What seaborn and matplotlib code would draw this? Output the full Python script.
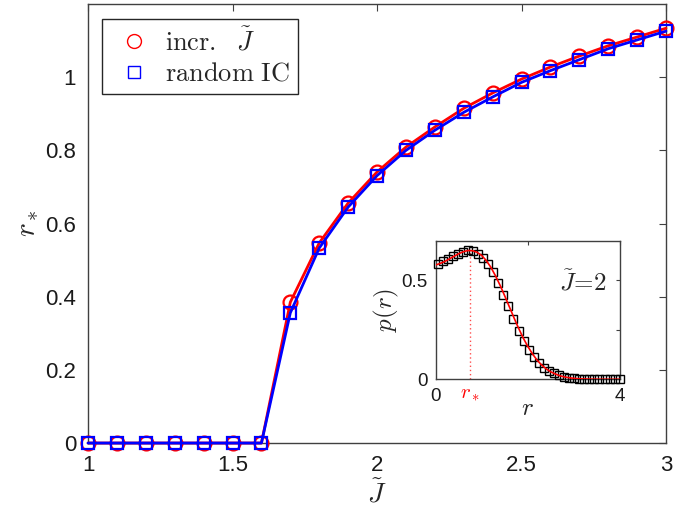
import numpy as np
import pandas as pd
import matplotlib
matplotlib.use("Agg")
import matplotlib.pyplot as plt
import seaborn as sns
from matplotlib.lines import Line2D

# ---- data ----
J_tilde = [1.0, 1.1, 1.2, 1.3, 1.4, 1.5, 1.6, 1.7, 1.8, 1.9, 2.0,
           2.1, 2.2, 2.3, 2.4, 2.5, 2.6, 2.7, 2.8, 2.9, 3.0]
r_incr = [0, 0, 0, 0, 0, 0, 0, 0.385, 0.547, 0.656, 0.741,
          0.809, 0.864, 0.915, 0.957, 0.995, 1.028, 1.058, 1.086, 1.110, 1.134]
r_random = [0, 0, 0, 0, 0, 0, 0, 0.356, 0.533, 0.645, 0.731,
            0.800, 0.855, 0.904, 0.946, 0.986, 1.018, 1.048, 1.078, 1.102, 1.126]

# inset: histogram of r at J~=2
r_hist = [0.04, 0.15, 0.26, 0.37, 0.48, 0.59, 0.70, 0.81, 0.92, 1.03,
          1.14, 1.25, 1.36, 1.47, 1.58, 1.69, 1.80, 1.91, 2.02, 2.13,
          2.24, 2.35, 2.46, 2.57, 2.68, 2.79, 2.90, 3.01, 3.12, 3.23,
          3.34, 3.45, 3.56, 3.67, 3.78, 3.89, 4.00]
p_hist = [0.582, 0.596, 0.608, 0.622, 0.634, 0.646, 0.652, 0.647, 0.634, 0.612,
          0.585, 0.542, 0.489, 0.428, 0.372, 0.303, 0.246, 0.193, 0.150, 0.112,
          0.081, 0.058, 0.042, 0.030, 0.021, 0.014, 0.009, 0.006, 0.004, 0.003,
          0.002, 0.001, 0.001, 0.0, 0.0, 0.0, 0.0]
r_fit = [0.0, 0.1, 0.2, 0.3, 0.4, 0.5, 0.6, 0.7, 0.8, 0.9, 1.0,
         1.1, 1.2, 1.3, 1.4, 1.5, 1.6, 1.7, 1.8, 1.9, 2.0,
         2.1, 2.2, 2.3, 2.4, 2.5, 2.6, 2.7, 2.8, 2.9, 3.0,
         3.1, 3.2, 3.3, 3.4, 3.5, 3.6, 3.7, 3.8, 3.9, 4.0]
p_fit = [0.578, 0.586, 0.596, 0.609, 0.622, 0.635, 0.645, 0.651, 0.650, 0.642, 0.626,
         0.600, 0.566, 0.523, 0.475, 0.422, 0.367, 0.312, 0.259, 0.210, 0.167,
         0.130, 0.098, 0.073, 0.053, 0.038, 0.027, 0.018, 0.012, 0.008, 0.005,
         0.003, 0.002, 0.0013, 0.0008, 0.0005, 0.0003, 0.0002, 0.0001, 0.0001, 0.0]
r_star = 0.74
p_star = 0.651

main_xticks = [1, 1.5, 2, 2.5, 3]
main_xticklabels = ["1", "1.5", "2", "2.5", "3"]
main_yticks = [0, 0.2, 0.4, 0.6, 0.8, 1.0]
main_yticklabels = ["0", "0.2", "0.4", "0.6", "0.8", "1"]

# ---- style ----
sns.set_style("white")
plt.rcParams['font.family'] = ['Liberation Sans', 'DejaVu Sans']
plt.rcParams['mathtext.fontset'] = 'cm'

axcol = '0.25'
fig = plt.figure(figsize=(6.84, 5.11), dpi=100)
ax = fig.add_axes([0.1287, 0.133, 0.845, 0.859])

df = pd.DataFrame({"J": J_tilde, "incr": r_incr, "rand": r_random})
sns.lineplot(data=df, x="J", y="incr", ax=ax, color='red', lw=2,
             marker='o', markersize=10, markerfacecolor='none',
             markeredgecolor='red', markeredgewidth=1.6, zorder=3, clip_on=False)
sns.lineplot(data=df, x="J", y="rand", ax=ax, color='blue', lw=2,
             marker='s', markersize=9, markerfacecolor='none',
             markeredgecolor='blue', markeredgewidth=1.6, zorder=4, clip_on=False)

ax.set_xlim(1, 3)
ax.set_ylim(0, 1.2)
ax.set_xticks(main_xticks)
ax.set_xticklabels(main_xticklabels)
ax.set_yticks(main_yticks)
ax.set_yticklabels(main_yticklabels)
ax.tick_params(direction='in', length=5, width=0.8, top=True, right=True,
               labelsize=16, colors=axcol, labelcolor='#1a1a1a', pad=8.5)
for s in ax.spines.values():
    s.set_color(axcol)
    s.set_linewidth(1.0)
ax.set_xlabel(r'$\tilde{J}$', fontsize=20, labelpad=3)
ax.set_ylabel(r'$r_*$', fontsize=21, labelpad=4)

handles = [Line2D([], [], ls='none', marker='o', markersize=10, markerfacecolor='none',
                  markeredgecolor='red', markeredgewidth=1.0),
           Line2D([], [], ls='none', marker='s', markersize=8.5, markerfacecolor='none',
                  markeredgecolor='blue', markeredgewidth=1.0)]
leg = ax.legend(handles, [r'$\mathrm{incr.}\ \ \tilde{J}$', r'$\mathrm{random\ IC}$'],
                loc='upper left', bbox_to_anchor=(0.024, 0.966), borderaxespad=0,
                fontsize=19, frameon=True, fancybox=False, edgecolor='0.15', framealpha=1,
                borderpad=0.3, handletextpad=0.3, labelspacing=0.25, handlelength=1.8)
leg.get_frame().set_linewidth(1.0)

# ---- inset ----
axi = fig.add_axes([0.637, 0.2577, 0.269, 0.271])
dfi = pd.DataFrame({"r": r_hist, "p": p_hist})
dff = pd.DataFrame({"r": r_fit, "p": p_fit})
sns.lineplot(data=dfi, x="r", y="p", ax=axi, lw=0, marker='s', markersize=6,
             markerfacecolor='none', markeredgecolor='black', markeredgewidth=1.0,
             zorder=3, clip_on=False)
sns.lineplot(data=dff, x="r", y="p", ax=axi, color='red', lw=1.2, zorder=4)
axi.plot([r_star, r_star], [0, p_star], color='red', ls=(0, (1, 2)), lw=1.0, alpha=0.7)
axi.set_xlim(0, 4)
axi.set_ylim(0, 0.7)
axi.set_xticks([0, 2, 4])
axi.set_xticklabels(["0", "", "4"])
axi.set_yticks([0, 0.25, 0.5])
axi.set_yticklabels(["0", "", "0.5"])
axi.tick_params(direction='in', length=3, width=0.8, top=True, right=True,
                labelsize=13.5, colors=axcol, labelcolor='#1a1a1a', pad=6)
for s in axi.spines.values():
    s.set_color(axcol)
    s.set_linewidth(1.0)
axi.set_xlabel(r'$r$', fontsize=18, labelpad=-6)
axi.set_ylabel(r'$p(r)$', fontsize=18, labelpad=0)
axi.text(r_star, -0.025, r'$r_*$', color='red', fontsize=15, ha='center', va='top')
axi.text(3.2, 0.49, r'$\tilde{J}\!=\!2$', fontsize=18, ha='center', va='center')

fig.savefig("out.png", dpi=100)
